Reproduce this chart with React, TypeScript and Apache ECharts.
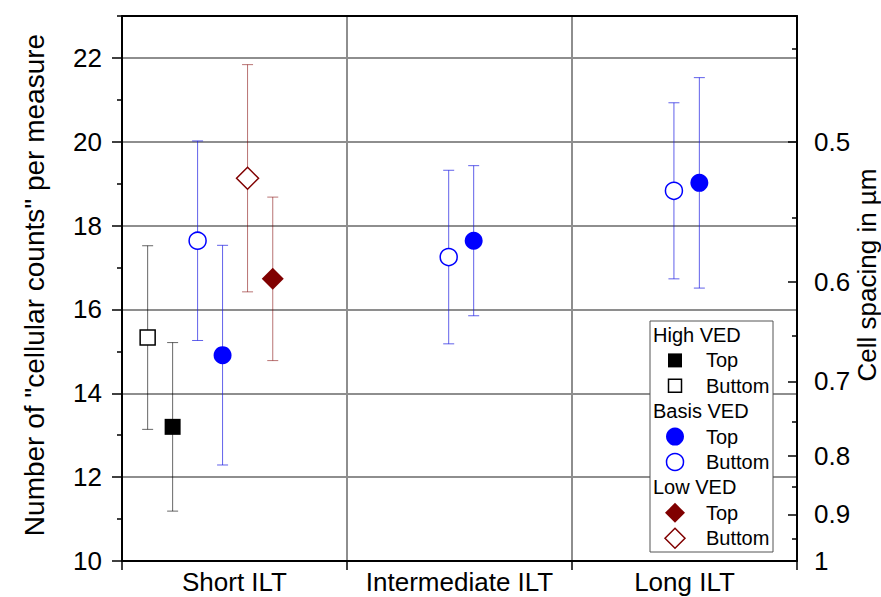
import React, { useEffect, useRef } from 'react';
import * as echarts from 'echarts';

// ---------- data ----------
const categories = ['Short ILT', 'Intermediate ILT', 'Long ILT'];
const countMajorTicks = [10, 12, 14, 16, 18, 20, 22];
const countMinorTicks = [11, 13, 15, 17, 19, 21, 23];
const spacingMajorTicks = [0.5, 0.6, 0.7, 0.8, 0.9, 1];
const spacingMinorTicks = [0.45, 0.55, 0.65, 0.75, 0.85, 0.95];
const spacingFactor = 10; // cell spacing (µm) = 10 / counts

const highTopMean = [13.2, null, null];
const highTopSd = [2.01, null, null];
const highBottomMean = [15.33, null, null];
const highBottomSd = [2.19, null, null];
const basisTopMean = [14.91, 17.64, 19.02];
const basisTopSd = [2.62, 1.79, 2.51];
const basisBottomMean = [17.64, 17.25, 18.83];
const basisBottomSd = [2.38, 2.07, 2.1];
const lowTopMean = [16.73, null, null];
const lowTopSd = [1.95, null, null];
const lowBottomMean = [19.13, null, null];
const lowBottomSd = [2.71, null, null];

// ---------- styling / layout ----------
const FONT = '"Liberation Sans", Arial, Helvetica, sans-serif';
const BLUE = '#0000ff';
const MAROON = '#800000';

type Def = {
  group: string;
  label: string;
  mean: (number | null)[];
  sd: (number | null)[];
  symbol: string;
  size: number;
  filled: boolean;
  color: string;
  errColor: string;
  offsets: number[];
};

const defs: Def[] = [
  { group: 'High VED', label: 'Top', mean: highTopMean, sd: highTopSd, symbol: 'rect', size: 16, filled: true, color: '#000000', errColor: 'rgba(0,0,0,0.6)', offsets: [-0.275, 0, 0] },
  { group: 'High VED', label: 'Buttom', mean: highBottomMean, sd: highBottomSd, symbol: 'rect', size: 15, filled: false, color: '#000000', errColor: 'rgba(0,0,0,0.6)', offsets: [-0.386, 0, 0] },
  { group: 'Basis VED', label: 'Top', mean: basisTopMean, sd: basisTopSd, symbol: 'circle', size: 18, filled: true, color: BLUE, errColor: 'rgba(30,30,225,0.7)', offsets: [-0.053, 0.063, 0.066] },
  { group: 'Basis VED', label: 'Buttom', mean: basisBottomMean, sd: basisBottomSd, symbol: 'circle', size: 17, filled: false, color: BLUE, errColor: 'rgba(30,30,225,0.7)', offsets: [-0.164, -0.048, -0.047] },
  { group: 'Low VED', label: 'Top', mean: lowTopMean, sd: lowTopSd, symbol: 'diamond', size: 22, filled: true, color: MAROON, errColor: 'rgba(128,0,0,0.55)', offsets: [0.17, 0, 0] },
  { group: 'Low VED', label: 'Buttom', mean: lowBottomMean, sd: lowBottomSd, symbol: 'diamond', size: 22, filled: false, color: MAROON, errColor: 'rgba(128,0,0,0.55)', offsets: [0.058, 0, 0] },
];

function buildSeries(): any[] {
  const out: any[] = [];
  defs.forEach((d, si) => {
    const pts: any[] = [];
    const bars: any[] = [];
    d.mean.forEach((m, ci) => {
      if (m == null) return;
      const x = ci + 0.5 + d.offsets[ci];
      const s = d.sd[ci] as number;
      pts.push([x, m]);
      bars.push([x, m - s, m + s]);
    });
    out.push({
      type: 'custom',
      name: d.group + ' ' + d.label + ' err',
      xAxisIndex: 1,
      yAxisIndex: 0,
      z: 2,
      data: bars,
      encode: { x: 0, y: [1, 2] },
      renderItem: (params: any, api: any) => {
        const x = api.value(0);
        const lo = api.coord([x, api.value(1)]);
        const hi = api.coord([x, api.value(2)]);
        const hw = 5.5;
        const style = { stroke: d.errColor, lineWidth: 1 };
        return {
          type: 'group',
          children: [
            { type: 'line', shape: { x1: lo[0], y1: lo[1], x2: hi[0], y2: hi[1] }, style },
            { type: 'line', shape: { x1: lo[0] - hw, y1: lo[1], x2: lo[0] + hw, y2: lo[1] }, style },
            { type: 'line', shape: { x1: hi[0] - hw, y1: hi[1], x2: hi[0] + hw, y2: hi[1] }, style },
          ],
        };
      },
    });
    out.push({
      type: 'scatter',
      name: d.group + ' ' + d.label,
      xAxisIndex: 1,
      yAxisIndex: 0,
      z: 5 + si,
      symbol: d.symbol,
      symbolSize: d.size,
      data: pts,
      itemStyle: d.filled
        ? { color: d.color, borderWidth: 0, opacity: 1 }
        : { color: '#ffffff', borderColor: d.color, borderWidth: 1.5, opacity: 1 },
    });
  });
  return out;
}

function buildLegend(): any[] {
  const x0 = 650, y0 = 321, w = 123, h = 231;
  const rowH = 25.4;
  const els: any[] = [
    { type: 'rect', shape: { x: x0, y: y0, width: w, height: h }, style: { fill: '#ffffff', stroke: '#555555', lineWidth: 1 }, z: 100 },
  ];
  let row = 0;
  let lastGroup = '';
  const textStyle = (t: string, x: number, y: number) => ({
    type: 'text', x, y, z: 101,
    style: { text: t, fill: '#000', font: `20px ${FONT}`, textVerticalAlign: 'middle', verticalAlign: 'middle' },
  });
  defs.forEach((d) => {
    if (d.group !== lastGroup) {
      els.push(textStyle(d.group, x0 + 3, y0 + 14 + row * rowH));
      row++;
      lastGroup = d.group;
    }
    const cy = y0 + 14 + row * rowH;
    const cx = 675;
    const style = d.filled
      ? { fill: d.color, stroke: d.color, lineWidth: 0 }
      : { fill: '#ffffff', stroke: d.color, lineWidth: 1.5 };
    if (d.symbol === 'rect') {
      const s = d.filled ? 14 : 13;
      els.push({ type: 'rect', z: 101, shape: { x: cx - s / 2, y: cy - s / 2, width: s, height: s }, style });
    } else if (d.symbol === 'circle') {
      els.push({ type: 'circle', z: 101, shape: { cx, cy, r: d.filled ? 9 : 8.5 }, style });
    } else {
      const r = 10;
      els.push({ type: 'polygon', z: 101, shape: { points: [[cx, cy - r], [cx + r, cy], [cx, cy + r], [cx - r, cy]] }, style });
    }
    els.push(textStyle(d.label, 706, cy));
    row++;
  });
  return els;
}

export default function App() {
  const ref = useRef<HTMLDivElement>(null);
  useEffect(() => {
    if (!ref.current) return;
    const chart = echarts.init(ref.current, undefined, { renderer: 'svg' });
    const axisLineStyle = { color: '#000', width: 2 };
    const tickLine = { color: '#000', width: 1.5 };
    const gridLine = { color: '#8e8e8e', width: 2 };
    const option: any = {
      animation: false,
      backgroundColor: '#ffffff',
      grid: { left: 122, right: 84, top: 16, bottom: 36, containLabel: false },
      xAxis: [
        {
          type: 'category',
          data: categories,
          position: 'bottom',
          boundaryGap: true,
          axisLine: { show: true, onZero: false, lineStyle: axisLineStyle },
          axisTick: { show: true, inside: false, length: 9, interval: 0, lineStyle: tickLine },
          axisLabel: { interval: 0, hideOverlap: false, color: '#000', fontSize: 26, fontFamily: FONT, margin: 8 },
          splitLine: { show: true, interval: 0, lineStyle: gridLine },
        },
        {
          type: 'value',
          min: 0,
          max: 3,
          position: 'top',
          axisLine: { show: true, onZero: false, lineStyle: axisLineStyle },
          axisTick: { show: false },
          axisLabel: { show: false },
          splitLine: { show: false },
        },
      ],
      yAxis: [
        {
          type: 'value',
          min: 10,
          max: 23,
          interval: 2,
          position: 'left',
          axisLine: { show: true, onZero: false, lineStyle: axisLineStyle },
          axisTick: { show: true, inside: false, length: 10, customValues: countMajorTicks, lineStyle: tickLine },
          axisLabel: { customValues: countMajorTicks, color: '#000', fontSize: 26, fontFamily: FONT, margin: 20 },
          splitLine: { show: true, lineStyle: gridLine },
        },
        {
          type: 'value',
          min: 10,
          max: 23,
          position: 'left',
          axisLine: { show: false },
          axisTick: { show: true, inside: false, length: 5, customValues: countMinorTicks, lineStyle: tickLine },
          axisLabel: { show: false },
          splitLine: { show: false },
        },
        {
          type: 'value',
          min: 10,
          max: 23,
          position: 'right',
          axisLine: { show: true, onZero: false, lineStyle: axisLineStyle },
          axisTick: { show: true, inside: true, length: 9, customValues: spacingMajorTicks.map((s) => spacingFactor / s), lineStyle: tickLine },
          axisLabel: {
            customValues: spacingMajorTicks.map((s) => spacingFactor / s),
            formatter: (v: number) => String(Math.round((spacingFactor / v) * 100) / 100),
            color: '#000', fontSize: 26, fontFamily: FONT, margin: 17,
          },
          splitLine: { show: false },
        },
        {
          type: 'value',
          min: 10,
          max: 23,
          position: 'right',
          axisLine: { show: false },
          axisTick: { show: true, inside: true, length: 5, customValues: spacingMinorTicks.map((s) => spacingFactor / s), lineStyle: tickLine },
          axisLabel: { show: false },
          splitLine: { show: false },
        },
      ],
      series: buildSeries(),
      graphic: [
        {
          type: 'text', x: 34, y: 285, rotation: Math.PI / 2,
          style: { text: 'Number of "cellular counts" per measure', fill: '#000', font: `28px ${FONT}`, textAlign: 'center', textVerticalAlign: 'middle', align: 'center', verticalAlign: 'middle' },
        },
        {
          type: 'text', x: 867, y: 275, rotation: Math.PI / 2,
          style: { text: 'Cell spacing in µm', fill: '#000', font: `26px ${FONT}`, textAlign: 'center', textVerticalAlign: 'middle', align: 'center', verticalAlign: 'middle' },
        },
        ...buildLegend(),
      ],
    };
    chart.setOption(option);
    return () => chart.dispose();
  }, []);
  return <div ref={ref} style={{ position: 'absolute', left: 0, top: 0, width: 881, height: 597 }} />;
}
